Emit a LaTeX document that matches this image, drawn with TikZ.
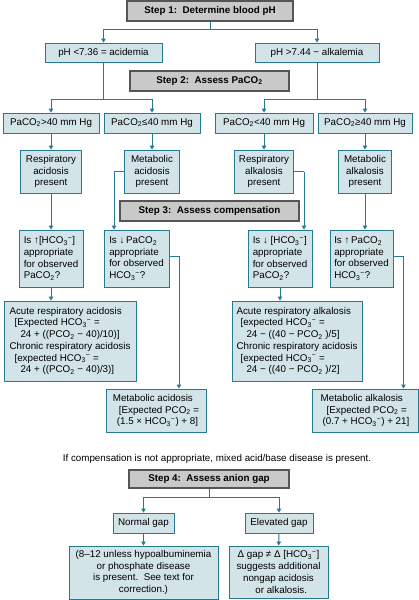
\documentclass[tikz,border=0pt]{standalone}
\usepackage{fontspec}
\setmainfont{Liberation Sans}
\usetikzlibrary{arrows.meta}
\usepackage{xcolor}

\definecolor{boxfill}{RGB}{211,228,233}
\definecolor{boxline}{RGB}{38,122,143}
\definecolor{stepfill}{RGB}{201,201,201}
\definecolor{stepline}{RGB}{85,85,85}

\newcommand{\chartsize}{\fontsize{9.8pt}{11.7pt}\selectfont}
\newcommand{\paco}{PaCO\textsubscript{2}}
\newcommand{\pco}{PCO\textsubscript{2}}
\newcommand{\hcoion}{HCO\textsubscript{3}\textsuperscript{\char"2212}}

\begin{document}
\begin{tikzpicture}[
  x=1pt, y=-1pt,
  every node/.style={font=\chartsize},
  stepbox/.style={draw=stepline, fill=stepfill, line width=1.2pt,
                  font=\chartsize\bfseries, inner sep=0pt, minimum height=20pt},
  box/.style={draw=boxline, fill=boxfill, line width=0.9pt, inner sep=0pt,
              align=center},
  qbox/.style={box, align=left},
  link/.style={draw=boxline, line width=0.9pt, -{Triangle[length=4pt,width=4.5pt]}},
  plain/.style={draw=boxline, line width=0.9pt},
]
  \useasboundingbox (0,0) rectangle (419,600);

  % Step 1
  \node[stepbox, minimum width=166pt] (step1) at (210,11) {Step 1:\ \ Determine blood pH};
  \node[box, minimum width=117pt, minimum height=19pt] (acid) at (103.5,52.5) {pH <7.36 = acidemia};
  \node[box, minimum width=124pt, minimum height=19pt] (alka) at (317,52.5) {pH >7.44 − alkalemia};

  % Step 2
  \node[stepbox, minimum width=159pt] (step2) at (209.5,81) {Step 2:\ \ Assess \paco};
  \node[box, minimum width=96pt, minimum height=20pt] (pa1) at (51,123) {\paco>40 mm Hg};
  \node[box, minimum width=96pt, minimum height=20pt] (pa2) at (152,123) {\paco≤40 mm Hg};
  \node[box, minimum width=98pt, minimum height=20pt] (pa3) at (264,123) {\paco<40 mm Hg};
  \node[box, minimum width=94pt, minimum height=20pt] (pa4) at (365,123) {\paco≥40 mm Hg};

  \node[box, minimum width=61pt, minimum height=43pt] (resac) at (51,171.5) {Respiratory\\acidosis\\present};
  \node[box, minimum width=55pt, minimum height=43pt] (metac) at (152,171.5) {Metabolic\\acidosis\\present};
  \node[box, minimum width=59pt, minimum height=43pt] (resal) at (264,171.5) {Respiratory\\alkalosis\\present};
  \node[box, minimum width=53pt, minimum height=43pt] (metal) at (365,171.5) {Metabolic\\alkalosis\\present};

  % Step 3
  \node[stepbox, minimum width=179pt] (step3) at (209.5,211) {Step 3:\ \ Assess compensation};
  \node[qbox, minimum width=64pt, minimum height=57pt] (q1) at (51,258.5)
    {Is ↑[\hcoion]\\appropriate\\for observed\\\paco?};
  \node[qbox, minimum width=65pt, minimum height=57pt] (q2) at (136.5,258.5)
    {Is ↓\,\paco\\appropriate\\for observed\\\hcoion?};
  \node[qbox, minimum width=64pt, minimum height=57pt] (q3) at (280,258.5)
    {Is ↓ [\hcoion]\\appropriate\\for observed\\\paco?};
  \node[qbox, minimum width=63pt, minimum height=57pt] (q4) at (361.5,258.5)
    {Is ↑\,\paco\\appropriate\\for observed\\\hcoion?};

  \node[qbox, minimum width=132pt, minimum height=80pt] (acuteac) at (70,341)
    {Acute respiratory acidosis\\
     \hspace*{5pt}[Expected \hcoion{} =\\
     \hspace*{11pt}24 + ((\pco{} − 40)/10)]\\
     Chronic respiratory acidosis\\
     \hspace*{5pt}[expected \hcoion{} =\\
     \hspace*{11pt}24 + ((\pco{} − 40)/3)]};
  \node[qbox, minimum width=130pt, minimum height=80pt] (acuteal) at (297,341)
    {Acute respiratory alkalosis\\
     \hspace*{4pt}[expected \hcoion{} =\\
     \hspace*{10pt}24 − ((40 − \pco{} )/5]\\
     Chronic respiratory acidosis\\
     \hspace*{4pt}[expected \hcoion{} =\\
     \hspace*{10pt}24 − ((40 − \pco{} )/2]};
  \node[qbox, minimum width=100pt, minimum height=43pt] (metacx) at (156,410.5)
    {Metabolic acidosis\\
     \hspace*{6pt}[Expected \pco{} =\\
     \hspace*{4pt}(1.5 × \hcoion) + 8]};
  \node[qbox, minimum width=106pt, minimum height=43pt] (metalx) at (365,410.5)
    {Metabolic alkalosis\\
     \hspace*{6pt}[Expected \pco{} =\\
     \hspace*{2pt}(0.7 + \hcoion) + 21]};

  \node (note) at (217,459) {If compensation is not appropriate, mixed acid/base disease is present.};

  % Step 4
  \node[stepbox, minimum width=160pt, minimum height=18pt] (step4) at (209,479) {Step 4:\ \ Assess anion gap};
  \node[box, minimum width=61pt, minimum height=20pt] (normal) at (143.5,523) {Normal gap};
  \node[box, minimum width=68pt, minimum height=20pt] (elev) at (279,523) {Elevated gap};
  \node[box, minimum width=149pt, minimum height=53pt] (normx) at (143.5,572.5)
    {(8–12 unless hypoalbuminemia\\or phosphate disease\\is present.\ \ See text for\\correction.)};
  \node[box, minimum width=99pt, minimum height=52pt] (elevx) at (278.5,572)
    {Δ gap ≠ Δ [\hcoion]\\suggests additional\\nongap acidosis\\\ \ or alkalosis.};

  % Connectors
  \draw[link] (step1.south) -- +(0,8) -| (acid.north);
  \draw[link] (step1.south) -- +(0,8) -| (alka.north);
  \draw[link] (acid.south) -- +(0,37) -| (pa1.north);
  \draw[link] (acid.south) -- +(0,37) -| (pa2.north);
  \draw[link] (alka.south) -- +(0,37) -| (pa3.north);
  \draw[link] (alka.south) -- +(0,37) -| (pa4.north);
  \draw[link] (pa1) -- (resac);
  \draw[link] (pa2) -- (metac);
  \draw[link] (pa3) -- (resal);
  \draw[link] (pa4) -- (metal);

  \draw[link] (resac.south) -- (resac.south |- q1.north);
  \draw[plain] (metac.west) -- ++(-10,0) coordinate (mtl);
  \draw[link] (mtl) -- (mtl |- q2.north);
  \draw[plain] (resal.east) -- ++(10,0) coordinate (rsr);
  \draw[link] (rsr) -- (rsr |- q3.north);
  \draw[link] (metal.south) -- (metal.south |- q4.north);

  \draw[link] (q1.south) -- (q1.south |- acuteac.north);
  \draw[link] (q3.south) -- (q3.south |- acuteal.north);
  \draw[plain] ([yshift=2.5pt]q2.east) -- ++(9.5,0) coordinate (q2r);
  \draw[link] (q2r) -- (q2r |- metacx.north);
  \draw[plain] ([yshift=2.5pt]q4.east) -- ++(10,0) coordinate (q4r);
  \draw[link] (q4r) -- (q4r |- metalx.north);

  \draw[link] (step4.south) -- +(0,9) -| (normal.north);
  \draw[link] (step4.south) -- +(0,9) -| (elev.north);
  \draw[link] (normal) -- (normx);
  \draw[link] (elev) -- (elevx);
\end{tikzpicture}
\end{document}
